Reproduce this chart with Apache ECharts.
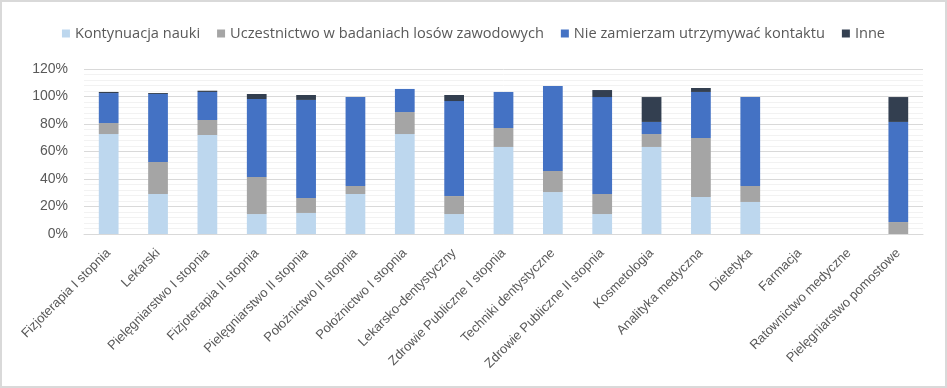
<!DOCTYPE html>
<html>
<head>
<meta charset="utf-8">
<script src="https://cdn.jsdelivr.net/npm/echarts@6/dist/echarts.min.js"></script>
<style>
html,body{margin:0;padding:0;background:#fff;}
#chart{width:947px;height:388px;}
</style>
</head>
<body>
<div id="chart"></div>
<script>
const categories = ["Fizjoterapia I stopnia","Lekarski","Pielęgniarstwo I stopnia","Fizjoterapia II stopnia","Pielęgniarstwo II stopnia","Położnictwo II stopnia","Położnictwo I stopnia","Lekarsko-dentystyczny","Zdrowie Publiczne I stopnia","Techniki dentystyczne","Zdrowie Publiczne II stopnia","Kosmetologia","Analityka medyczna","Dietetyka","Farmacja","Ratownictwo medyczne","Pielęgniarstwo pomostowe"];
const seriesNames = ["Kontynuacja nauki","Uczestnictwo w badaniach losów zawodowych","Nie zamierzam utrzymywać kontaktu","Inne"];
const kontynuacja = [72.7, 29.1, 72.0, 14.5, 15.3, 29.1, 72.7, 14.5, 63.3, 30.5, 14.5, 63.3, 26.9, 23.3, 0, 0, 0];
const uczestnictwo = [8.0, 23.3, 10.9, 27.0, 10.9, 5.8, 16.0, 13.1, 13.8, 15.3, 14.6, 9.4, 42.9, 11.6, 0, 0, 8.7];
const nieZamierzam = [21.8, 49.4, 20.4, 56.7, 71.3, 64.7, 16.8, 69.1, 26.2, 61.8, 70.5, 8.8, 33.5, 64.7, 0, 0, 72.8];
const inne = [0.8, 0.7, 0.9, 3.6, 3.6, 0, 0, 4.4, 0, 0, 5.1, 18.1, 2.9, 0, 0, 0, 18.1];
const yTicks = [0, 20, 40, 60, 80, 100, 120];

const colors = ["#BDD7EE", "#A5A5A5", "#4472C4", "#333F50"];
const dataSets = [kontynuacja, uczestnictwo, nieZamierzam, inne];
const font = "'Liberation Sans', Arial, sans-serif";
const legendFont = "'Open Sans', 'Liberation Sans', sans-serif";

const chart = echarts.init(document.getElementById('chart'), null, {renderer: 'canvas'});
chart.setOption({
  animation: false,
  backgroundColor: '#fff',
  color: colors,
  graphic: [{
    type: 'rect', shape: {x: 1, y: 1, width: 945, height: 386},
    style: {fill: 'none', stroke: '#D9D9D9', lineWidth: 2}, silent: true, z: 100
  }],
  legend: {
    top: 21, left: 'center', itemWidth: 8, itemHeight: 8, itemGap: 17,
    icon: 'rect',
    textStyle: {fontFamily: legendFont, fontSize: 14.6, color: '#595959'},
    data: seriesNames
  },
  grid: {left: 84, right: 24, top: 69, bottom: 154, containLabel: false},
  xAxis: {
    type: 'category', data: categories,
    axisLine: {lineStyle: {color: '#D9D9D9'}},
    axisTick: {show: false},
    axisLabel: {rotate: 45, interval: 0, margin: 17, fontFamily: font, fontSize: 13, color: '#595959'}
  },
  yAxis: {
    type: 'value', min: yTicks[0], max: yTicks[yTicks.length - 1], interval: 20,
    axisLine: {show: false}, axisTick: {show: false},
    axisLabel: {formatter: v => v + '%', margin: 16, fontFamily: font, fontSize: 14, color: '#595959'},
    splitLine: {lineStyle: {color: '#D9D9D9', width: 1}},
    minorTick: {show: false, splitNumber: 5},
    minorSplitLine: {show: true, lineStyle: {color: '#F2F2F2', width: 1}}
  },
  series: seriesNames.map((name, i) => ({
    name: name, type: 'bar', stack: 'total', barWidth: '40%',
    data: dataSets[i],
    itemStyle: {color: colors[i]}
  }))
});
</script>
</body>
</html>
